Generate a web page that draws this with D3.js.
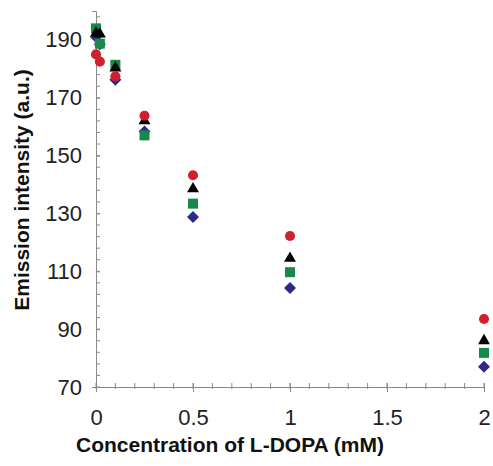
<!DOCTYPE html>
<html lang="en">
<head>
<meta charset="UTF-8">
<title>Emission intensity vs L-DOPA</title>
<script src="https://d3js.org/d3.v7.min.js"></script>
<style>
    body { margin: 0; background: #fff; }
    svg { display: block; font-family: Arial, "Liberation Sans", sans-serif; }
    .axis path, .axis line { stroke: #8a8a8a; }
    .axis text { fill: #222; font-size: 22px; }
    .title { font-weight: bold; font-size: 21px; fill: #111; }
</style>
</head>
<body>
<div id="chart"></div>
<script>
    // concentrations (mM)
    const conc = [0, 0.02, 0.1, 0.25, 0.5, 1, 2];

    // emission intensity, one array per series
    const diamondVals  = [191, 188.5, 176.2, 158.3, 128.8, 104.2, 77];
    const squareVals   = [194, 188.7, 181.4, 157, 133.4, 109.7, 81.8];
    const triangleVals = [192.3, 192, 180.3, 162, 138.5, 114.5, 86];
    const circleVals   = [185, 182.5, 177.4, 163.8, 143.2, 122.2, 93.5];

    const xTicks = [0, 0.5, 1, 1.5, 2];
    const yTicks = [70, 90, 110, 130, 150, 170, 190];

    const width = 493, height = 466;
    const margin = { left: 96, right: 9, top: 11, bottom: 79 };

    const svg = d3.select("#chart").append("svg")
        .attr("width", width)
        .attr("height", height);

    const x = d3.scaleLinear().domain([0, 2]).range([margin.left, width - margin.right]);
    const y = d3.scaleLinear().domain([70, 200]).range([height - margin.bottom, margin.top]);

    // minor ticks
    svg.append("g")
        .selectAll("line")
        .data(d3.range(0, 2.0001, 0.1))
        .join("line")
        .attr("x1", d => x(d)).attr("x2", d => x(d))
        .attr("y1", y(70) - 4).attr("y2", y(70) + 2)
        .attr("stroke", "#8a8a8a");

    svg.append("g")
        .selectAll("line")
        .data(d3.range(70, 200.001, 4))
        .join("line")
        .attr("x1", x(0)).attr("x2", x(0) + 4)
        .attr("y1", d => y(d)).attr("y2", d => y(d))
        .attr("stroke", "#8a8a8a");

    // x axis
    const gx = svg.append("g")
        .attr("class", "axis")
        .attr("transform", `translate(0,${y(70)})`)
        .call(d3.axisBottom(x).tickValues(xTicks).tickFormat(d3.format("")).tickSizeOuter(0).tickSize(5).tickPadding(17));
    gx.selectAll(".tick line").attr("y1", -4);

    // y axis
    const gy = svg.append("g")
        .attr("class", "axis")
        .attr("transform", `translate(${x(0)},0)`)
        .call(d3.axisLeft(y).tickValues(yTicks).tickSizeOuter(0).tickSize(4).tickPadding(10));
    gy.selectAll(".tick line").attr("x2", 4);

    // axis titles
    svg.append("text")
        .attr("class", "title")
        .attr("x", 230)
        .attr("y", 452)
        .attr("text-anchor", "middle")
        .text("Concentration of L-DOPA (mM)");

    svg.append("text")
        .attr("class", "title")
        .attr("transform", "translate(29,190) rotate(-90)")
        .attr("text-anchor", "middle")
        .text("Emission intensity (a.u.)");

    // series, drawn back to front
    const series = [
        { vals: diamondVals,  color: "#2c2a86", shape: d3.symbolSquare,   size: 72, rotate: 45 },
        { vals: squareVals,   color: "#178a4b", shape: d3.symbolSquare,   size: 100, rotate: 0 },
        { vals: triangleVals, color: "#000000", shape: d3.symbolTriangle, size: 62, rotate: 0 },
        { vals: circleVals,   color: "#cf2030", shape: d3.symbolCircle,   size: 80, rotate: 0 }
    ];

    series.forEach(s => {
        const sym = d3.symbol().type(s.shape).size(s.size);
        svg.append("g")
            .selectAll("path")
            .data(conc.map((c, i) => ({ c, v: s.vals[i] })))
            .join("path")
            .attr("d", sym)
            .attr("transform", d => `translate(${x(d.c)},${y(d.v)}) rotate(${s.rotate})`)
            .attr("fill", s.color);
    });
</script>
</body>
</html>
